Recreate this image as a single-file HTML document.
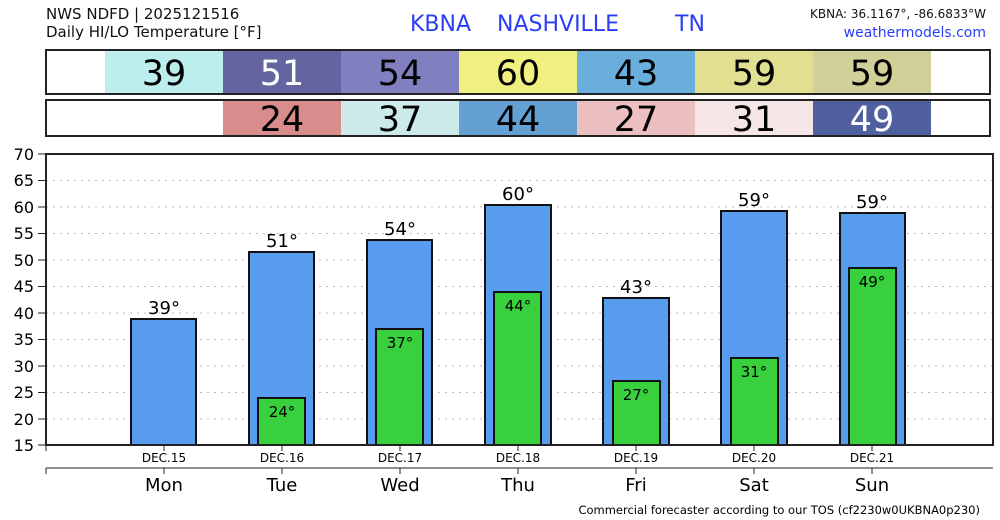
<!DOCTYPE html>
<html><head><meta charset="utf-8"><style>
body{margin:0;background:#fff;}
svg{display:block;font-family:"DejaVu Sans","Liberation Sans",sans-serif;}
</style></head><body>
<svg width="1000" height="520" viewBox="0 0 1000 520" xmlns="http://www.w3.org/2000/svg">
<text x="46" y="19" font-size="15" fill="#111">NWS NDFD | 2025121516</text>
<text x="46" y="37" font-size="15" fill="#111">Daily HI/LO Temperature [°F]</text>
<text x="410" y="31" font-size="22" fill="#2a3df5">KBNA</text>
<text x="497" y="31" font-size="22" fill="#2a3df5">NASHVILLE</text>
<text x="675" y="31" font-size="22" fill="#2a3df5">TN</text>
<text x="986" y="18" font-size="12" fill="#111" text-anchor="end">KBNA: 36.1167°, -86.6833°W</text>
<text x="986" y="37" font-size="14" fill="#2a3df5" text-anchor="end">weathermodels.com</text>
<rect x="46" y="50" width="944" height="44" fill="#fff"/>
<rect x="105" y="50" width="118" height="44" fill="#bdeeee"/>
<rect x="223" y="50" width="118" height="44" fill="#6464a0"/>
<rect x="341" y="50" width="118" height="44" fill="#8080c0"/>
<rect x="459" y="50" width="118" height="44" fill="#f0f080"/>
<rect x="577" y="50" width="118" height="44" fill="#6aaedc"/>
<rect x="695" y="50" width="118" height="44" fill="#e0e090"/>
<rect x="813" y="50" width="118" height="44" fill="#d0d098"/>
<rect x="46" y="50" width="944" height="44" fill="none" stroke="#222" stroke-width="2"/>
<g font-size="35" text-anchor="middle" fill="#000">
<text x="164" y="85">39</text><text x="282" y="85" fill="#fff">51</text><text x="400" y="85">54</text><text x="518" y="85">60</text><text x="636" y="85">43</text><text x="754" y="85">59</text><text x="872" y="85">59</text>
</g>
<rect x="46" y="100" width="944" height="36" fill="#fff"/>
<rect x="223" y="100" width="118" height="36" fill="#d88c8c"/>
<rect x="341" y="100" width="118" height="36" fill="#cdeaea"/>
<rect x="459" y="100" width="118" height="36" fill="#64a0d2"/>
<rect x="577" y="100" width="118" height="36" fill="#ecc0c0"/>
<rect x="695" y="100" width="118" height="36" fill="#f6e6e6"/>
<rect x="813" y="100" width="118" height="36" fill="#505f9e"/>
<rect x="46" y="100" width="944" height="36" fill="none" stroke="#222" stroke-width="2"/>
<g font-size="35" text-anchor="middle" fill="#000">
<text x="282" y="131">24</text><text x="400" y="131">37</text><text x="518" y="131">44</text><text x="636" y="131">27</text><text x="754" y="131">31</text><text x="872" y="131" fill="#fff">49</text>
</g>
<g stroke="#bbb" stroke-dasharray="2,5" stroke-width="1">
<line x1="46" x2="993" y1="180.5" y2="180.5"/><line x1="46" x2="993" y1="207" y2="207"/><line x1="46" x2="993" y1="233.5" y2="233.5"/><line x1="46" x2="993" y1="260" y2="260"/><line x1="46" x2="993" y1="286.5" y2="286.5"/><line x1="46" x2="993" y1="313" y2="313"/><line x1="46" x2="993" y1="339.5" y2="339.5"/><line x1="46" x2="993" y1="366" y2="366"/><line x1="46" x2="993" y1="392.5" y2="392.5"/><line x1="46" x2="993" y1="419" y2="419"/>
</g>
<g font-size="16" text-anchor="end" fill="#000">
<text x="34" y="160">70</text><text x="34" y="186">65</text><text x="34" y="213">60</text><text x="34" y="239">55</text><text x="34" y="266">50</text><text x="34" y="292">45</text><text x="34" y="319">40</text><text x="34" y="345">35</text><text x="34" y="372">30</text><text x="34" y="398">25</text><text x="34" y="425">20</text><text x="34" y="451">15</text>
</g>
<g stroke="#222" stroke-width="1">
<line x1="38" x2="46" y1="154" y2="154"/><line x1="38" x2="46" y1="180.5" y2="180.5"/><line x1="38" x2="46" y1="207" y2="207"/><line x1="38" x2="46" y1="233.5" y2="233.5"/><line x1="38" x2="46" y1="260" y2="260"/><line x1="38" x2="46" y1="286.5" y2="286.5"/><line x1="38" x2="46" y1="313" y2="313"/><line x1="38" x2="46" y1="339.5" y2="339.5"/><line x1="38" x2="46" y1="366" y2="366"/><line x1="38" x2="46" y1="392.5" y2="392.5"/><line x1="38" x2="46" y1="419" y2="419"/><line x1="38" x2="46" y1="445" y2="445"/>
</g>
<g fill="#589cf0" stroke="#111" stroke-width="2">
<rect x="131" y="319" width="65" height="126"/>
<rect x="249" y="252" width="65" height="193"/>
<rect x="367" y="240" width="65" height="205"/>
<rect x="485" y="205" width="66" height="240"/>
<rect x="603" y="298" width="66" height="147"/>
<rect x="721" y="211" width="66" height="234"/>
<rect x="840" y="213" width="65" height="232"/>
</g>
<g fill="#38d03c" stroke="#111" stroke-width="2">
<rect x="258" y="398" width="47" height="47"/>
<rect x="376" y="329" width="47" height="116"/>
<rect x="494" y="292" width="47" height="153"/>
<rect x="613" y="381" width="47" height="64"/>
<rect x="731" y="358" width="47" height="87"/>
<rect x="849" y="268" width="47" height="177"/>
</g>
<g font-size="18" text-anchor="middle" fill="#000">
<text x="164" y="314">39°</text><text x="282" y="247">51°</text><text x="400" y="235">54°</text><text x="518" y="200">60°</text><text x="636" y="293">43°</text><text x="754" y="206">59°</text><text x="872" y="208">59°</text>
</g>
<g font-size="15" text-anchor="middle" fill="#000">
<text x="282" y="417">24°</text><text x="400" y="348">37°</text><text x="518" y="311">44°</text><text x="636" y="400">27°</text><text x="754" y="377">31°</text><text x="872" y="287">49°</text>
</g>
<rect x="46" y="154" width="947" height="291" fill="none" stroke="#222" stroke-width="2"/>
<g stroke="#222" stroke-width="1">
<line x1="46" x2="46" y1="445" y2="451"/>
<line x1="164" x2="164" y1="445" y2="451"/><line x1="282" x2="282" y1="445" y2="451"/><line x1="400" x2="400" y1="445" y2="451"/><line x1="518" x2="518" y1="445" y2="451"/><line x1="636" x2="636" y1="445" y2="451"/><line x1="754" x2="754" y1="445" y2="451"/><line x1="872" x2="872" y1="445" y2="451"/>
<line x1="46" x2="993" y1="468" y2="468"/>
<line x1="46" x2="46" y1="468" y2="474"/>
<line x1="164" x2="164" y1="468" y2="474"/><line x1="282" x2="282" y1="468" y2="474"/><line x1="400" x2="400" y1="468" y2="474"/><line x1="518" x2="518" y1="468" y2="474"/><line x1="636" x2="636" y1="468" y2="474"/><line x1="754" x2="754" y1="468" y2="474"/><line x1="872" x2="872" y1="468" y2="474"/>
</g>
<g font-size="12" text-anchor="middle" fill="#000">
<text x="164" y="462">DEC.15</text><text x="282" y="462">DEC.16</text><text x="400" y="462">DEC.17</text><text x="518" y="462">DEC.18</text><text x="636" y="462">DEC.19</text><text x="754" y="462">DEC.20</text><text x="872" y="462">DEC.21</text>
</g>
<g font-size="18" text-anchor="middle" fill="#000">
<text x="164" y="491">Mon</text><text x="282" y="491">Tue</text><text x="400" y="491">Wed</text><text x="518" y="491">Thu</text><text x="636" y="491">Fri</text><text x="754" y="491">Sat</text><text x="872" y="491">Sun</text>
</g>
<text x="980" y="514" font-size="11.5" text-anchor="end" fill="#000">Commercial forecaster according to our TOS (cf2230w0UKBNA0p230)</text>
</svg>
</body></html>
